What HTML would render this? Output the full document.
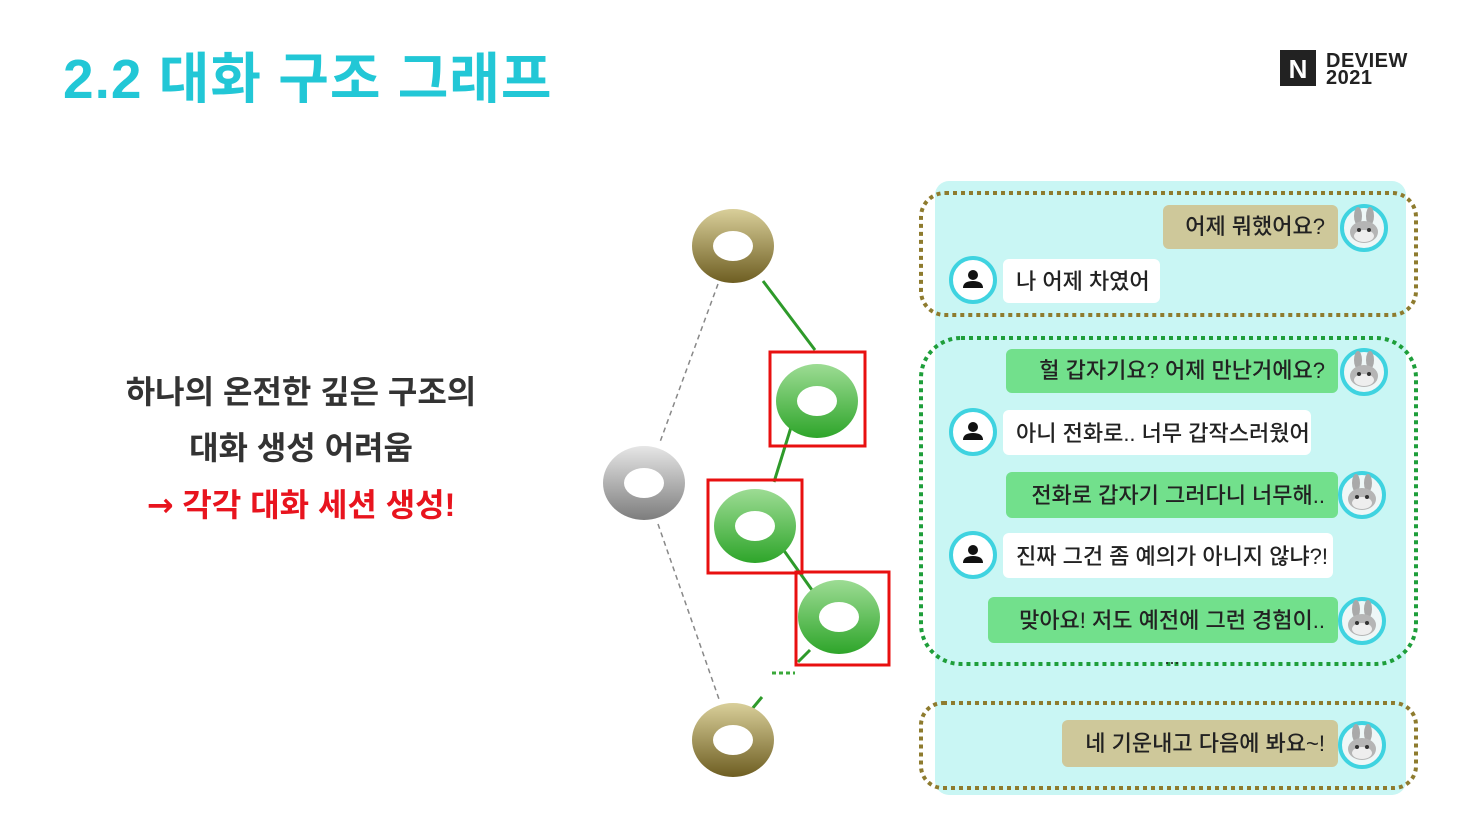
<!DOCTYPE html>
<html><head><meta charset="utf-8"><style>
html,body{margin:0;padding:0;background:#fff;width:1466px;height:820px;overflow:hidden}
svg{display:block}
text{font-family:"Liberation Sans","Noto Sans CJK KR",sans-serif}
</style></head><body>
<svg width="1466" height="820" viewBox="0 0 1466 820" xmlns="http://www.w3.org/2000/svg">
<defs>
<linearGradient id="ol" x1="0" y1="0" x2="0" y2="1"><stop offset="0" stop-color="#d9cf9a"/><stop offset="1" stop-color="#6e5e22"/></linearGradient>
<linearGradient id="gr" x1="0" y1="0" x2="0" y2="1"><stop offset="0" stop-color="#9ddc94"/><stop offset="1" stop-color="#2ea52a"/></linearGradient>
<linearGradient id="gy" x1="0" y1="0" x2="0" y2="1"><stop offset="0" stop-color="#e6e6e6"/><stop offset="1" stop-color="#7d7d7d"/></linearGradient>
<g id="bun">
<circle r="22" fill="#eef7f7" stroke="#3fd3e0" stroke-width="4"/>
<ellipse cx="-6" cy="-12" rx="4" ry="9" fill="#a9a9a9"/><ellipse cx="6" cy="-12" rx="4" ry="9" fill="#a9a9a9"/>
<ellipse cx="0" cy="4" rx="14" ry="11" fill="#b5b5b5"/><ellipse cx="0" cy="8" rx="10" ry="6" fill="#eee"/>
<circle cx="-5" cy="2" r="2" fill="#333"/><circle cx="5" cy="2" r="2" fill="#333"/>
</g>
<g id="usr">
<circle r="22" fill="#fff" stroke="#3fd3e0" stroke-width="4"/>
<circle cx="0" cy="-5" r="5" fill="#111"/><path d="M-10 8 Q-10 1 0 1 Q10 1 10 8 Z" fill="#111"/>
</g>
</defs>

<text x="63" y="98" font-size="55" font-weight="bold" fill="#22c7d6" letter-spacing="1">2.2 대화 구조 그래프</text>
<rect x="1280" y="50" width="36" height="36" fill="#222"/>
<text x="1298" y="78" font-size="26" font-weight="bold" fill="#fff" text-anchor="middle">N</text>
<text x="1326" y="67" font-size="20" font-weight="bold" fill="#222" letter-spacing="0.5">DEVIEW</text>
<text x="1326" y="84" font-size="20" font-weight="bold" fill="#222" letter-spacing="0.5">2021</text>

<g font-size="32" text-anchor="middle" font-weight="bold">
<text x="301" y="403" fill="#333">하나의 온전한 깊은 구조의</text>
<text x="301" y="459" fill="#333">대화 생성 어려움</text>
<text x="301" y="516" fill="#e8141e"><tspan font-family="DejaVu Sans">→</tspan> 각각 대화 세션 생성!</text>
</g>

<!-- graph -->
<line x1="718" y1="284" x2="660" y2="442" stroke="#888" stroke-width="1.5" stroke-dasharray="5 4"/>
<line x1="658" y1="524" x2="720" y2="702" stroke="#888" stroke-width="1.5" stroke-dasharray="5 4"/>
<g stroke="#2e9a2a" stroke-width="3">
<line x1="763" y1="281" x2="815" y2="350"/>
<line x1="797" y1="408" x2="774" y2="482"/>
<line x1="780" y1="545" x2="812" y2="590"/>
<line x1="810" y1="650" x2="798" y2="662"/>
<line x1="752" y1="709" x2="762" y2="697"/>
</g>
<line x1="772" y1="673" x2="795" y2="673" stroke="#3aa83a" stroke-width="3" stroke-dasharray="4 3"/>
<path fill-rule="evenodd" fill="url(#ol)" d="M692 246a41 37 0 1 0 82 0a41 37 0 1 0 -82 0ZM713 246a20 15 0 1 1 40 0a20 15 0 1 1 -40 0Z"/>
<path fill-rule="evenodd" fill="url(#ol)" d="M692 740a41 37 0 1 0 82 0a41 37 0 1 0 -82 0ZM713 740a20 15 0 1 1 40 0a20 15 0 1 1 -40 0Z"/>
<path fill-rule="evenodd" fill="url(#gy)" d="M603 483a41 37 0 1 0 82 0a41 37 0 1 0 -82 0ZM624 483a20 15 0 1 1 40 0a20 15 0 1 1 -40 0Z"/>
<path fill-rule="evenodd" fill="url(#gr)" d="M776 401a41 37 0 1 0 82 0a41 37 0 1 0 -82 0ZM797 401a20 15 0 1 1 40 0a20 15 0 1 1 -40 0Z"/>
<path fill-rule="evenodd" fill="url(#gr)" d="M714 526a41 37 0 1 0 82 0a41 37 0 1 0 -82 0ZM735 526a20 15 0 1 1 40 0a20 15 0 1 1 -40 0Z"/>
<path fill-rule="evenodd" fill="url(#gr)" d="M798 617a41 37 0 1 0 82 0a41 37 0 1 0 -82 0ZM819 617a20 15 0 1 1 40 0a20 15 0 1 1 -40 0Z"/>
<g fill="none" stroke="#e81010" stroke-width="3">
<rect x="770" y="352" width="95" height="94"/>
<rect x="708" y="480" width="94" height="93"/>
<rect x="796" y="572" width="93" height="93"/>
</g>

<!-- chat panel -->
<rect x="935" y="181" width="471" height="614" rx="14" fill="#c9f6f4"/>
<rect x="921" y="193" width="495" height="122" rx="24" fill="none" stroke="#8e7b2e" stroke-width="4" stroke-dasharray="4 4"/>
<rect x="921" y="338" width="495" height="326" rx="40" fill="none" stroke="#1e9e3a" stroke-width="4" stroke-dasharray="4 4"/>
<rect x="921" y="703" width="495" height="85" rx="22" fill="none" stroke="#8e7b2e" stroke-width="4" stroke-dasharray="4 4"/>

<g font-size="22" fill="#222" font-weight="500">
<rect x="1163" y="205" width="175" height="44" rx="6" fill="#cec89a"/>
<text x="1325" y="234" text-anchor="end">어제 뭐했어요?</text>
<rect x="1003" y="259" width="157" height="44" rx="6" fill="#fff"/>
<text x="1016" y="289">나 어제 차였어</text>
<rect x="1006" y="349" width="332" height="44" rx="6" fill="#72e08c"/>
<text x="1325" y="378" text-anchor="end">헐 갑자기요? 어제 만난거에요?</text>
<rect x="1003" y="410" width="308" height="45" rx="6" fill="#fff"/>
<text x="1016" y="441">아니 전화로.. 너무 갑작스러웠어</text>
<rect x="1006" y="472" width="332" height="46" rx="6" fill="#72e08c"/>
<text x="1325" y="503" text-anchor="end">전화로 갑자기 그러다니 너무해..</text>
<rect x="1003" y="533" width="330" height="45" rx="6" fill="#fff"/>
<text x="1016" y="564">진짜 그건 좀 예의가 아니지 않냐?!</text>
<rect x="988" y="597" width="350" height="46" rx="6" fill="#72e08c"/>
<text x="1325" y="628" text-anchor="end">맞아요! 저도 예전에 그런 경험이..</text>
<text x="1172" y="664" text-anchor="middle" font-size="18">...</text>
<rect x="1062" y="720" width="276" height="47" rx="6" fill="#cec89a"/>
<text x="1325" y="751" text-anchor="end">네 기운내고 다음에 봐요~!</text>
</g>
<use href="#bun" x="1364" y="228"/>
<use href="#bun" x="1364" y="372"/>
<use href="#bun" x="1362" y="495"/>
<use href="#bun" x="1362" y="621"/>
<use href="#bun" x="1362" y="745"/>
<use href="#usr" x="973" y="280"/>
<use href="#usr" x="973" y="432"/>
<use href="#usr" x="973" y="555"/>
</svg>
</body></html>
